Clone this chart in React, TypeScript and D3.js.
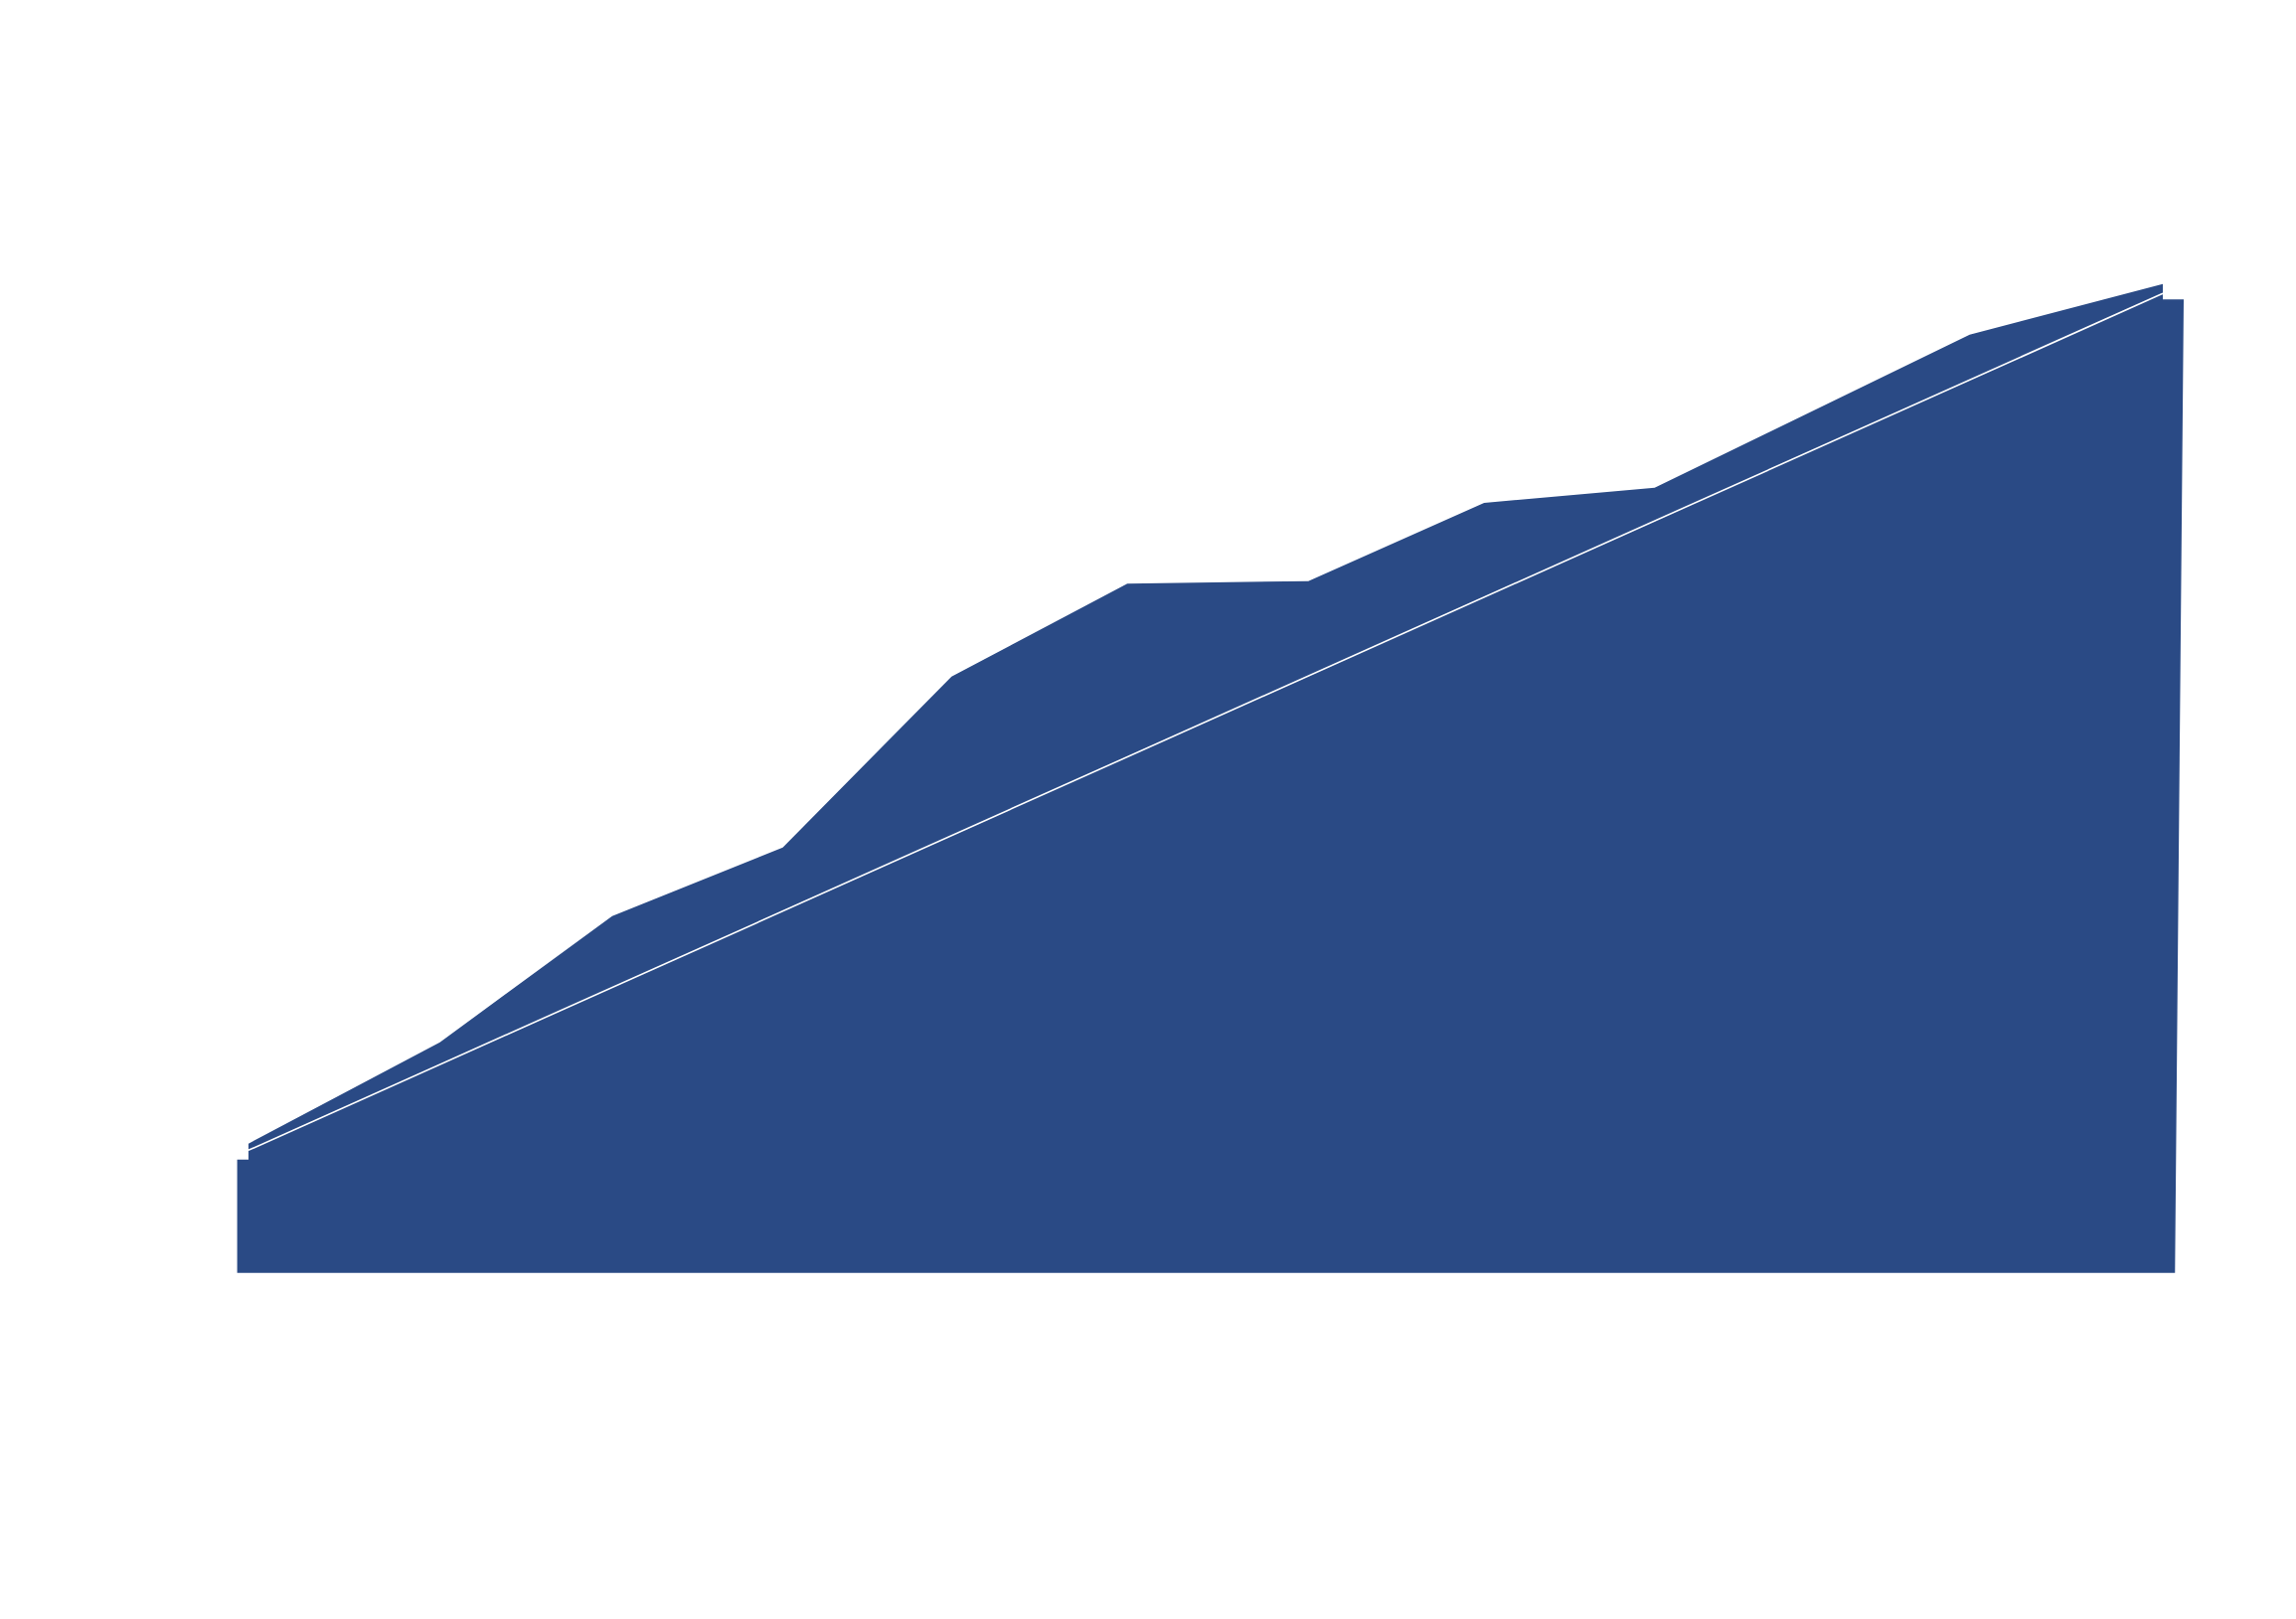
import React from "react";
import * as d3 from "d3";

// Series (x in period units, y in value units)
const xValues = [0, 1.1, 2.09, 3.07, 4.04, 5.05, 6.09, 7.1, 8.08, 9.89, 11.0];
const yValues = [13.0, 23.2, 35.9, 42.8, 60.0, 69.35, 69.6, 77.47, 79.0, 94.4, 99.5];

// Linear trend endpoints
const trendX = [0, 11];
const trendY = [12.34, 98.54];

// Background band (left/right steps)
const bandLeftX = -0.065;
const bandLeftY = 11.4;
const bandRightTopX = 11.12;
const bandRightBottomX = 11.07;
const bandRightY = 97.94;

const W = 2310;
const H = 1629;
const FILL = "#2a4a85";

export default function App() {
  const x = d3.scaleLinear().domain([0, 11]).range([250, 2176]);
  const y = d3.scaleLinear().domain([0, 100]).range([1280.7, 280.7]);

  const n = xValues.length;
  const pts: [number, number][] = [];
  pts.push([x(bandLeftX), y(0)]);
  pts.push([x(bandLeftX), y(bandLeftY)]);
  pts.push([x(xValues[0]), y(bandLeftY)]);
  for (let i = 0; i < n; i++) pts.push([x(xValues[i]), y(yValues[i])]);
  pts.push([x(xValues[n - 1]), y(bandRightY)]);
  pts.push([x(bandRightTopX), y(bandRightY)]);
  pts.push([x(bandRightBottomX), y(0)]);

  const areaPath = d3.line()(pts) + "Z";
  const trendPath = d3.line()(trendX.map((v, i) => [x(v), y(trendY[i])] as [number, number]));

  return (
    <svg
      width={W}
      height={H}
      style={{ position: "absolute", left: 0, top: 0, background: "#fff" }}
    >
      <rect x={0} y={0} width={W} height={H} fill="#fff" />
      <path d={areaPath!} fill={FILL} />
      <path d={trendPath!} fill="none" stroke="#fff" strokeWidth={1.6} />
    </svg>
  );
}
